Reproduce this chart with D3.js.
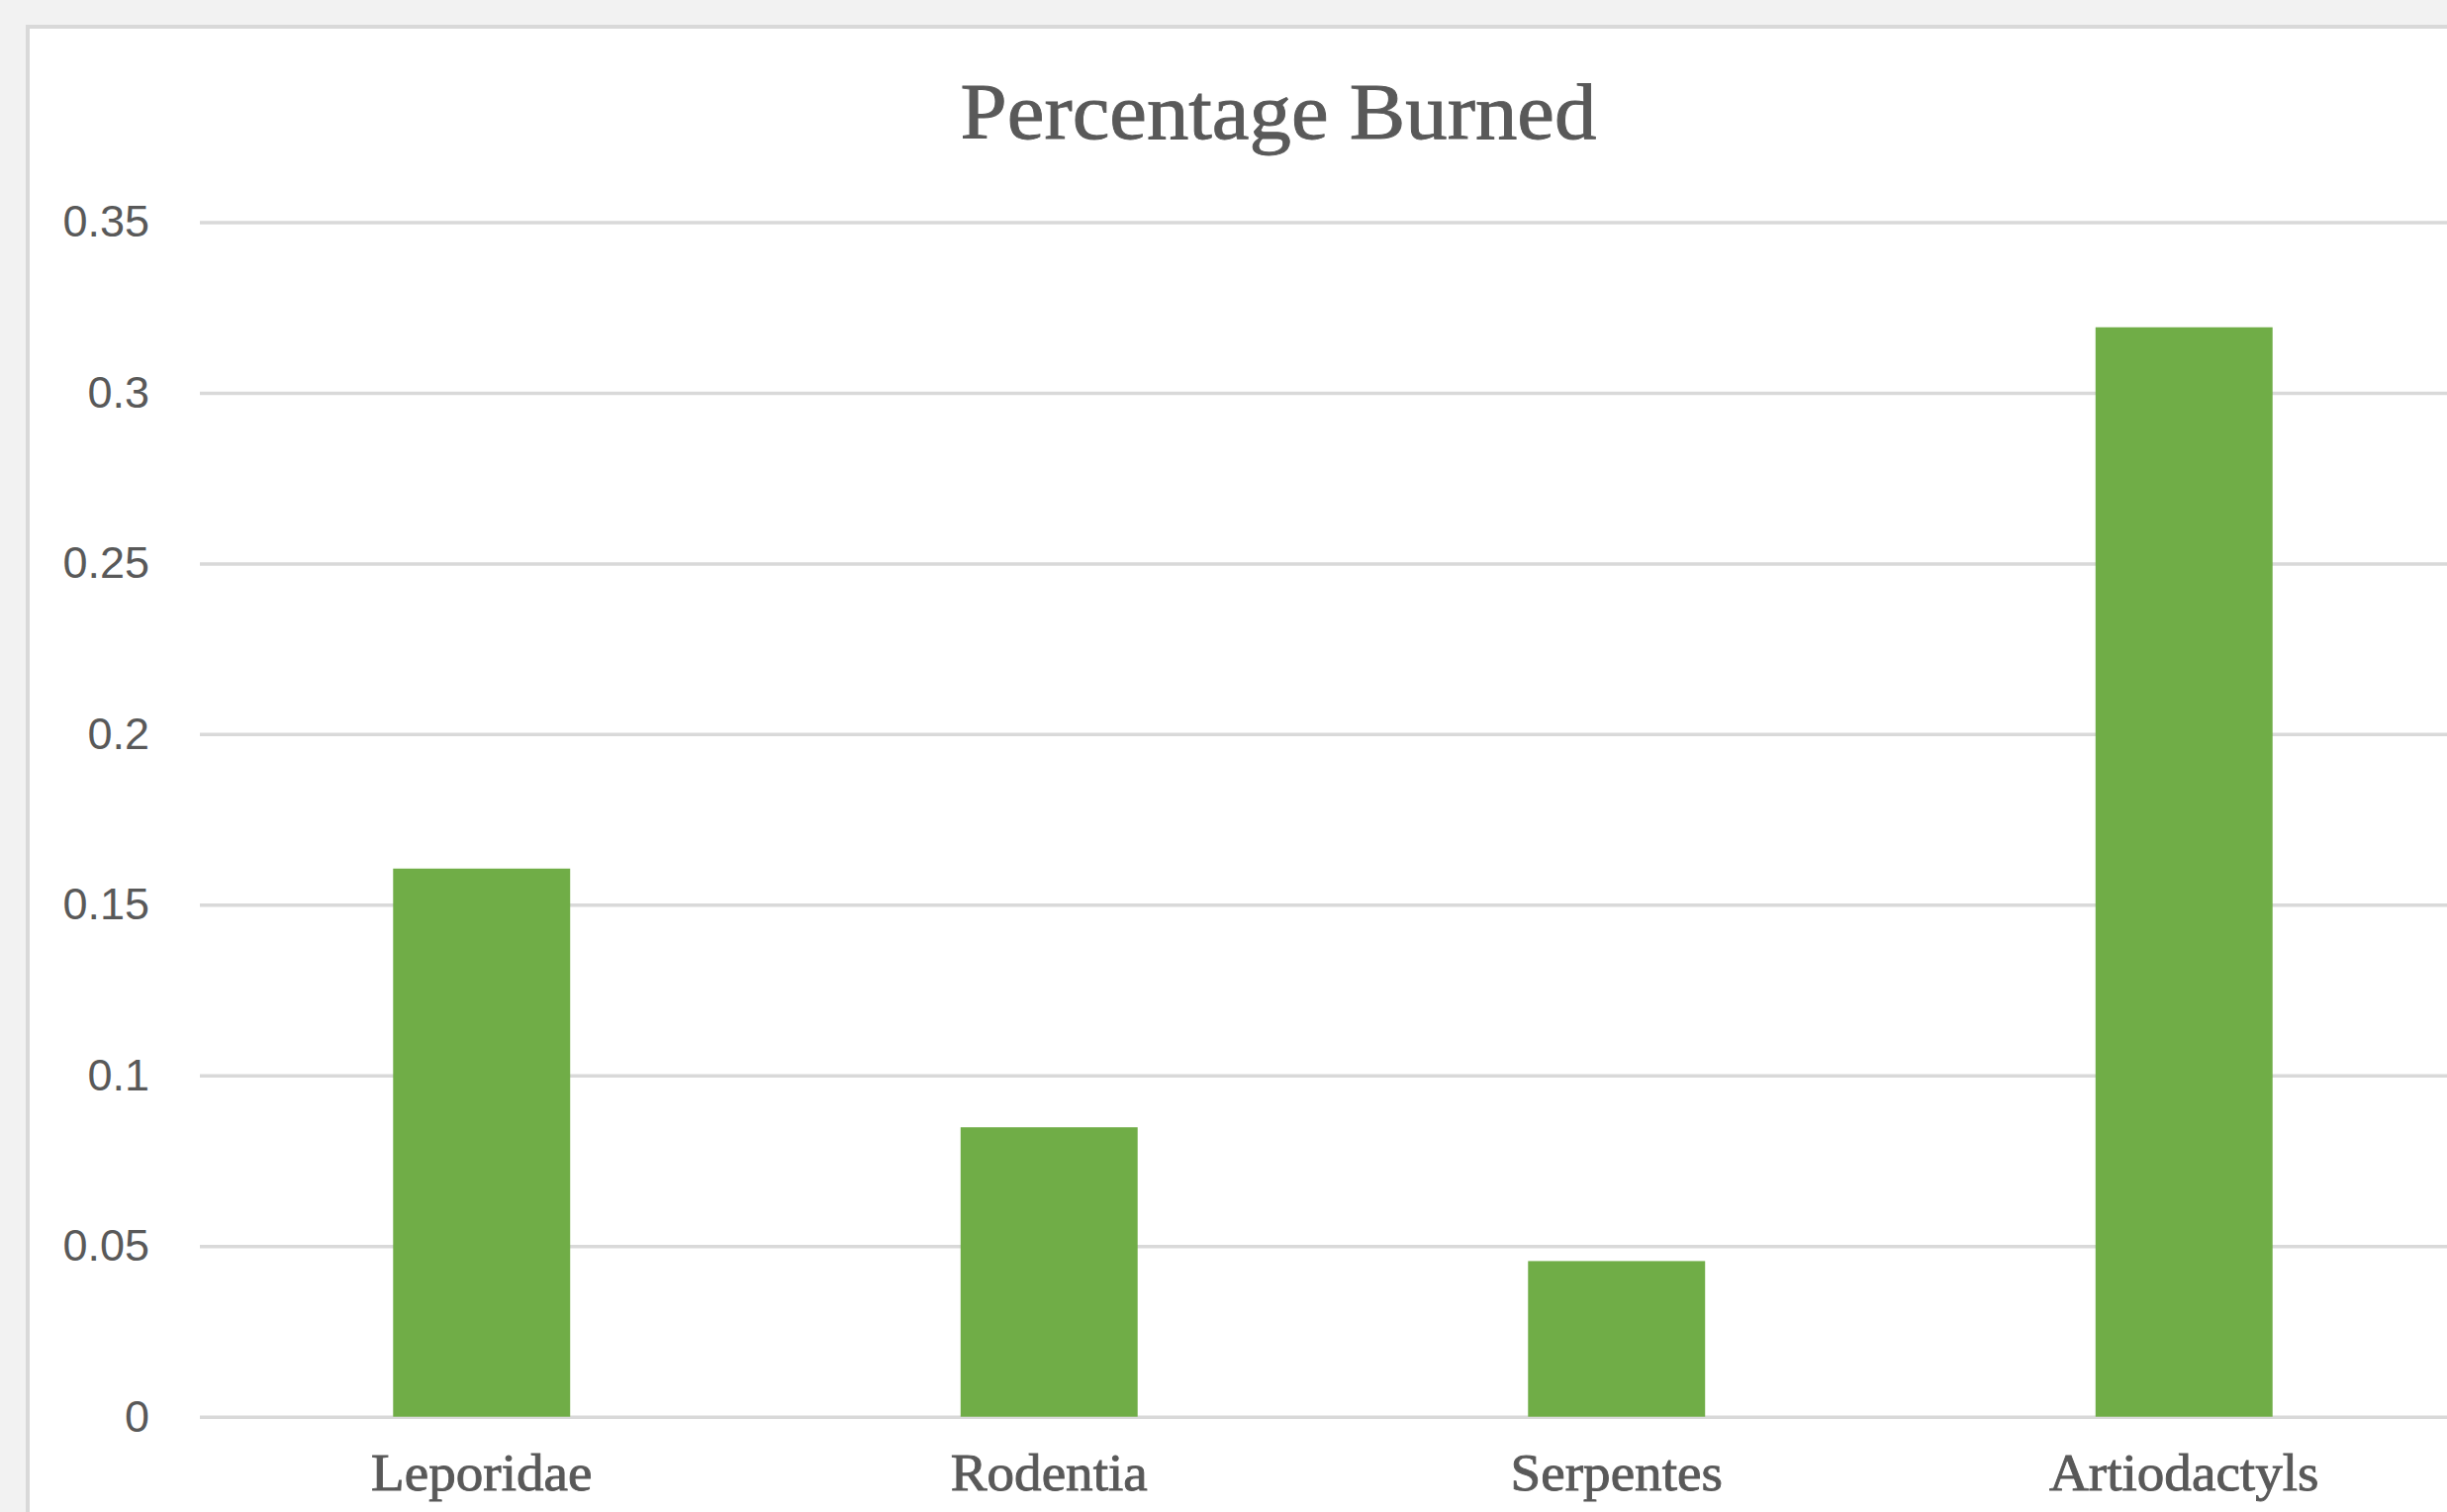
<!DOCTYPE html>
<html>
<head>
<meta charset="utf-8">
<script src="https://cdn.jsdelivr.net/npm/d3@7"></script>
<style>
  html, body { margin: 0; padding: 0; background: #f2f2f2; overflow: hidden; }
  svg { display: block; }
</style>
</head>
<body>
<svg id="chart" width="2473" height="1528"></svg>
<script>
// Share of remains burned, per taxon
const categories = ["Leporidae", "Rodentia", "Serpentes", "Artiodactyls"];
const burnedShare = [0.1606, 0.0848, 0.0456, 0.3192];
const tickValues = [0, 0.05, 0.1, 0.15, 0.2, 0.25, 0.3, 0.35];
const tickLabels = ["0", "0.05", "0.1", "0.15", "0.2", "0.25", "0.3", "0.35"];
const chartTitle = "Percentage Burned";

const W = 2473, H = 1528;
const plot = { left: 200, right: 2494, top: 224.5, bottom: 1431.7 };
const textGray = "#595959";
const gridGray = "#d9d9d9";
const barGreen = "#70ad47";
const serif = "'Liberation Serif', 'Times New Roman', serif";
const sans = "'Liberation Sans', Arial, sans-serif";
const serifStretch = 1.06;

const svg = d3.select("#chart");

// chart panel (continues past the right and bottom edges of the view)
svg.append("rect")
  .attr("x", 28).attr("y", 27)
  .attr("width", W + 200).attr("height", H + 200)
  .attr("fill", "#ffffff")
  .attr("stroke", "#d9d9d9")
  .attr("stroke-width", 4);

const x = d3.scaleBand()
  .domain(categories)
  .range([plot.left, plot.right])
  .paddingInner(0.688)
  .paddingOuter(0.344);

const y = d3.scaleLinear()
  .domain([0, 0.35])
  .range([plot.bottom, plot.top]);

// value axis with gridlines
const yAxis = d3.axisLeft(y)
  .tickValues(tickValues)
  .tickFormat((d, i) => tickLabels[i])
  .tickSizeInner(-(W + 200 - 202))
  .tickSizeOuter(0)
  .tickPadding(51);

const gy = svg.append("g")
  .attr("transform", "translate(202,0)")
  .call(yAxis);
gy.select(".domain").remove();
gy.selectAll(".tick line")
  .attr("stroke", gridGray)
  .attr("stroke-width", 3.5);
gy.selectAll(".tick text")
  .attr("fill", textGray)
  .attr("font-family", sans)
  .attr("font-size", 45)
  .attr("dy", "0.32em");

// bars
svg.append("g")
  .selectAll("rect")
  .data(categories)
  .join("rect")
  .attr("x", d => x(d))
  .attr("width", x.bandwidth())
  .attr("y", (d, i) => y(burnedShare[i]))
  .attr("height", (d, i) => y(0) - y(burnedShare[i]))
  .attr("fill", barGreen);

// category axis
const xAxis = d3.axisBottom(x).tickSize(0).tickPadding(37.4);
const gx = svg.append("g")
  .attr("transform", `translate(0,${plot.bottom})`)
  .call(xAxis);
gx.select(".domain").remove();
gx.selectAll(".tick text")
  .attr("fill", textGray)
  .attr("font-family", serif)
  .attr("font-size", 52);

// title
svg.append("text")
  .attr("class", "title")
  .attr("x", 1292)
  .attr("y", 140)
  .attr("text-anchor", "middle")
  .attr("fill", textGray)
  .attr("font-family", serif)
  .attr("font-size", 80)
  .text(chartTitle);

// widen and thicken the serif faces a little
svg.selectAll(".title, .tick text").filter(function () {
  return this.getAttribute("font-family") === serif;
}).each(function () {
  const len = this.getComputedTextLength();
  d3.select(this)
    .attr("textLength", len * serifStretch)
    .attr("lengthAdjust", "spacingAndGlyphs")
    .attr("stroke", textGray)
    .attr("stroke-width", 0.9);
});
</script>
</body>
</html>
